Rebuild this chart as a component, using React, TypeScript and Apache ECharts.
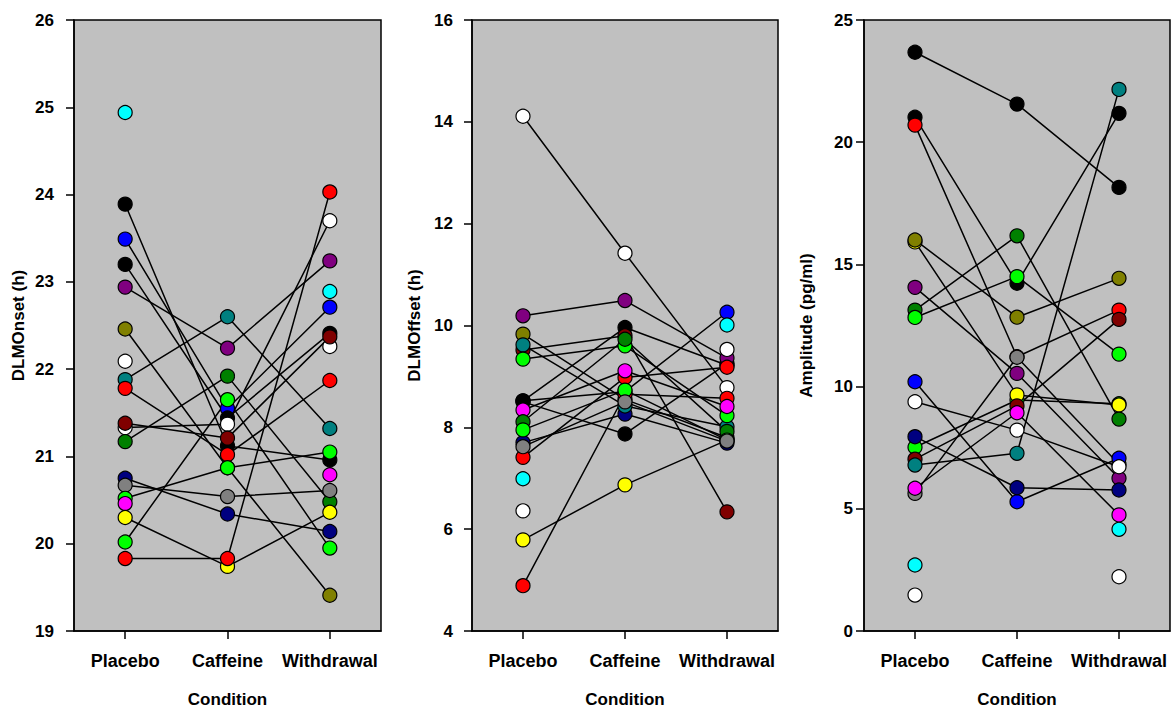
import React, { useEffect, useRef } from "react";
import * as echarts from "echarts";

const conditions = ["Placebo", "Caffeine", "Withdrawal"];

const BLACK = "#000000", RED = "#ff0000", LIME = "#00ff00", YELLOW = "#ffff00", BLUE = "#0000ff";
const MAGENTA = "#ff00ff", CYAN = "#00ffff", WHITE = "#ffffff", GRAY = "#808080", DARKRED = "#800000";
const GREEN = "#008000", NAVY = "#000080", OLIVE = "#808000", PURPLE = "#800080", TEAL = "#008080";

// Panel 1: DLMOnset (h)
const onsetColors = [CYAN, BLACK, BLUE, BLACK, PURPLE, OLIVE, WHITE, TEAL, RED, WHITE, DARKRED, GREEN, NAVY, GRAY, LIME, MAGENTA, YELLOW, LIME, RED];
const onsetPlacebo = [24.94, 23.89, 23.49, 23.2, 22.94, 22.46, 22.09, 21.88, 21.78, 21.33, 21.38, 21.17, 20.75, 20.67, 20.52, 20.46, 20.3, 20.02, 19.83];
const onsetCaffeine = [null, 21.12, 21.55, 21.44, 22.24, 20.87, null, 22.6, 21.02, 21.37, 21.21, 21.92, 20.34, 20.54, 20.87, null, 19.74, 21.65, 19.83];
const onsetWithdrawal = [22.89, 20.96, 22.71, 22.41, 23.24, 19.41, 22.26, 21.32, 21.87, 23.7, 22.37, 20.48, 20.14, 20.61, 21.05, 20.79, 20.36, 19.95, 24.03];

// Panel 2: DLMOffset (h)
const offsetColors = [BLUE, BLACK, BLACK, OLIVE, YELLOW, DARKRED, WHITE, PURPLE, NAVY, TEAL, RED, RED, LIME, MAGENTA, GREEN, LIME, GRAY, CYAN, WHITE];
const offsetPlacebo = [8.52, 8.5, 8.52, 9.83, 5.79, 9.52, 14.11, 10.19, 7.7, 9.62, 7.41, 4.89, 9.34, 8.34, 8.11, 7.95, 7.62, 6.99, 6.36];
const offsetCaffeine = [8.7, 7.87, 9.96, 8.55, 6.87, 9.8, 11.42, 10.49, 8.26, 8.42, 8.98, 8.65, 9.6, 9.11, 9.73, 8.73, 8.5, null, null];
const offsetWithdrawal = [10.26, 9.25, 9.22, 7.8, 7.75, 6.34, 8.78, 9.36, 7.69, 8.01, 9.18, 8.57, 8.23, 8.41, 7.92, 7.75, 7.73, 10.01, 9.53];

// Panel 3: Amplitude (pg/ml)
const ampColors = [LIME, BLACK, BLACK, RED, GRAY, YELLOW, OLIVE, PURPLE, GREEN, LIME, BLUE, WHITE, NAVY, DARKRED, TEAL, MAGENTA, CYAN, WHITE];
const ampPlacebo = [7.52, 23.68, 21.02, 20.7, 5.63, 15.92, 16.0, 14.06, 13.13, 12.83, 10.2, 9.38, 7.95, 7.03, 6.79, 5.84, 2.7, 1.47];
const ampCaffeine = [9.45, 21.56, 14.23, 11.22, 11.2, 9.66, 12.84, 10.54, 16.17, 14.5, 5.29, 8.22, 5.86, 9.21, 7.27, 8.93, null, null];
const ampWithdrawal = [9.3, 18.15, 21.18, 13.13, 6.82, 9.25, 14.43, 6.25, 8.67, 11.33, 7.07, 6.72, 5.77, 12.75, 22.16, 4.75, 4.16, 2.22];

const FONT = "'Liberation Sans', Arial, Helvetica, sans-serif";

type Panel = {
  name: string; colors: string[]; p: (number | null)[]; c: (number | null)[]; w: (number | null)[];
  min: number; max: number; interval: number; left: number; width: number; labelMargin: number; nameGap: number;
};

const panels: Panel[] = [
  { name: "DLMOnset (h)", colors: onsetColors, p: onsetPlacebo, c: onsetCaffeine, w: onsetWithdrawal, min: 19, max: 26, interval: 1, left: 74, width: 307, labelMargin: 20, nameGap: 47 },
  { name: "DLMOffset (h)", colors: offsetColors, p: offsetPlacebo, c: offsetCaffeine, w: offsetWithdrawal, min: 4, max: 16, interval: 2, left: 472, width: 306, labelMargin: 19, nameGap: 49 },
  { name: "Amplitude (pg/ml)", colors: ampColors, p: ampPlacebo, c: ampCaffeine, w: ampWithdrawal, min: 0, max: 25, interval: 5, left: 864, width: 306, labelMargin: 11, nameGap: 49 },
];

export default function App() {
  const ref = useRef<HTMLDivElement>(null);
  useEffect(() => {
    if (!ref.current) return;
    const chart = echarts.init(ref.current, null, { renderer: "svg" });
    const grid: any[] = [];
    const xAxis: any[] = [];
    const yAxis: any[] = [];
    const series: any[] = [];
    panels.forEach((pn, i) => {
      grid.push({
        left: pn.left, top: 20, width: pn.width, height: 611, show: true, containLabel: false,
        outerBoundsMode: "none",
        backgroundColor: "#c0c0c0", borderColor: "#000", borderWidth: 1.5,
      });
      xAxis.push({
        type: "category", gridIndex: i, data: conditions, boundaryGap: true,
        axisLine: { show: true, lineStyle: { color: "#000", width: 1.5 } },
        axisTick: { show: true, alignWithLabel: true, interval: 0, length: 8, lineStyle: { color: "#000", width: 1.5 } },
        axisLabel: { color: "#000", fontWeight: "bold", fontSize: 18, fontFamily: FONT, margin: 21, interval: 0 },
        splitLine: { show: false },
        name: "Condition", nameLocation: "middle", nameGap: 60,
        nameTextStyle: { color: "#000", fontWeight: "bold", fontSize: 17, fontFamily: FONT },
      });
      yAxis.push({
        type: "value", gridIndex: i, min: pn.min, max: pn.max, interval: pn.interval,
        axisLine: { show: true, lineStyle: { color: "#000", width: 1.5 } },
        axisTick: { show: true, length: 8, lineStyle: { color: "#000", width: 1.5 } },
        axisLabel: { color: "#000", fontWeight: "bold", fontSize: 17, fontFamily: FONT, margin: pn.labelMargin },
        splitLine: { show: false },
        name: pn.name, nameLocation: "middle", nameGap: pn.nameGap,
        nameTextStyle: { color: "#000", fontWeight: "bold", fontSize: 17, fontFamily: FONT },
      });
      const pts: any[] = [];
      pn.colors.forEach((col, s) => {
        const vals = [pn.p[s], pn.c[s], pn.w[s]];
        series.push({
          type: "line", xAxisIndex: i, yAxisIndex: i, data: vals, showSymbol: false, symbol: "none",
          connectNulls: false, silent: true, z: 2,
          lineStyle: { color: "#000", width: 1.5 },
        });
        vals.forEach((v, j) => {
          if (v !== null) pts.push({ value: [j, v], itemStyle: { color: col } });
        });
      });
      series.push({
        type: "scatter", xAxisIndex: i, yAxisIndex: i, data: pts, symbol: "circle", symbolSize: 14, z: 3,
        itemStyle: { borderColor: "#000", borderWidth: 1.2, opacity: 1 },
      });
    });
    chart.setOption({ animation: false, backgroundColor: "#fff", grid, xAxis, yAxis, series });
    return () => chart.dispose();
  }, []);
  return <div ref={ref} style={{ position: "fixed", left: 0, top: 0, width: 1174, height: 711 }} />;
}
